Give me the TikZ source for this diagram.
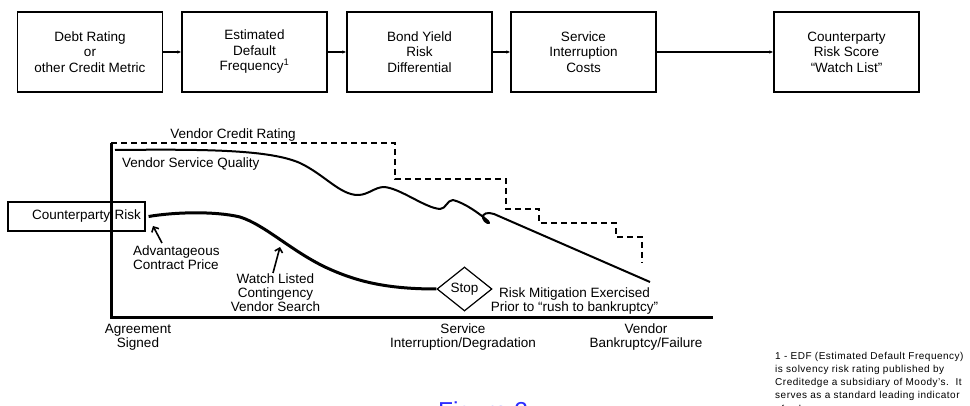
\documentclass[tikz,border=0pt]{standalone}
\usepackage{fontspec}
\setmainfont{Liberation Sans}
\usetikzlibrary{arrows.meta,shapes.geometric}
\definecolor{figblue}{RGB}{45,45,255}

\begin{document}
\begin{tikzpicture}[x=1pt,y=-1pt,
  every node/.style={font=\fontsize{13.5}{14}\selectfont, inner sep=0pt},
  stage/.style={draw, line width=1.3pt, minimum width=145pt, minimum height=80pt,
    align=center, font=\fontsize{13.5}{15.5}\selectfont},
  flow/.style={line width=1.1pt, -{Latex[length=4pt,width=3.5pt]}},
  axis/.style={line width=3pt, line join=miter},
  rating/.style={line width=1.3pt, dash pattern=on 6pt off 4pt},
  quality/.style={line width=2pt, line join=round},
  risk/.style={line width=3pt},
  pointer/.style={line width=1.6pt, -{Straight Barb[length=4pt,width=8pt]}},
  footnote/.style={align=left, font=\fontsize{10}{13.2}\selectfont\addfontfeature{LetterSpace=5}},
]
\clip (0,0) rectangle (970,406);

% ---- process chain ----
\node[stage] (b1) at (90,52)    {Debt Rating\\or\\other Credit Metric};
\node[stage] (b2) at (254.5,52) {Estimated\\Default\\Frequency\textsuperscript{1}};
\node[stage] (b3) at (419.5,52) {Bond Yield\\Risk\\Differential};
\node[stage] (b4) at (583.5,52) {Service\\Interruption\\Costs};
\node[stage] (b5) at (846.5,52) {Counterparty\\Risk Score\\“Watch List”};
\draw[flow] (b1) -- (b2);
\draw[flow] (b2) -- (b3);
\draw[flow] (b3) -- (b4);
\draw[flow] (b4) -- (b5);

% ---- risk chart ----
\node[draw, line width=1.2pt, minimum width=137pt, minimum height=29pt,
      text width=129pt, align=right] (cr) at (76.5,216.5) {Counterparty Risk};

\coordinate (top) at (111,143);
\coordinate (origin) at (111,318);
\coordinate (xend) at (713,318);
\draw[axis] (top) -- (origin) -- (xend);

% vendor credit rating steps
\draw[rating] (top) -- (395,143) -- (395,179) -- (506,179) -- (506,209)
  -- (539,209) -- (539,223) -- (616,223) -- (616,237) -- (642,237) -- (642,263);
\node[anchor=base] (vcr) at (233,138.3) {Vendor Credit Rating};

% vendor service quality
\draw[quality] (115,150) .. controls (210,149) and (270,150) .. (300,163)
  .. controls (325,175) and (340,195) .. (358,195)
  .. controls (368,195) and (375,187) .. (384,187)
  .. controls (400,188) and (425,208) .. (440,209)
  .. controls (446,209) and (447,200) .. (453,200)
  .. controls (465,203) and (480,214) .. (488,221)
  .. controls (492,225) and (484,223) .. (483,218)
  .. controls (482,213) and (488,212) .. (494,214)
  -- (650,282);
\node[anchor=base west] (vsq) at (122,167.3) {Vendor Service Quality};

% counterparty risk trajectory
\node[diamond, draw, line width=1.2pt, minimum width=55pt, minimum height=44pt]
  (stop) at (464.5,289) {Stop};
\draw[risk] ([xshift=3pt]cr.east) .. controls (175,212) and (215,211) .. (240,217)
  .. controls (265,225) and (290,250) .. (325,267)
  .. controls (355,281) and (385,289) .. (stop.west);

\node[align=center] (mitig) at (574.5,300.7)
  {Risk Mitigation Exercised\\Prior to “rush to bankruptcy”};

% annotations
\node[align=left, anchor=west] (adv) at (133,257.6) {Advantageous\\Contract Price};
\coordinate (advtail) at (162,243);
\coordinate (advtip) at (153,226);
\draw[pointer] (advtail) -- (advtip);

\node[align=center] (watch) at (275.5,292.6) {Watch Listed\\Contingency\\Vendor Search};
\coordinate (watchtail) at (273,273);
\coordinate (watchtip) at (280,247);
\draw[pointer] (watchtail) -- (watchtip);

% time axis labels
\node[align=center] (t1) at (138,337.5) {Agreement\\Signed};
\node[align=center] (t2) at (463,337.5) {Service\\Interruption/Degradation};
\node[align=center] (t3) at (646,337.5) {Vendor\\Bankruptcy/Failure};

% footnote and caption
\node[footnote, anchor=west] (fn) at (775,383.1)
  {1 - EDF (Estimated Default Frequency)\\is solvency risk rating published by\\Creditedge a subsidiary of Moody's.\ \ It\\serves as a standard leading indicator\\of solvency};
\node[anchor=base west, text=figblue, font=\fontsize{24.5}{28}\selectfont] (cap) at (438,419.5) {Figure 2};
\end{tikzpicture}
\end{document}
